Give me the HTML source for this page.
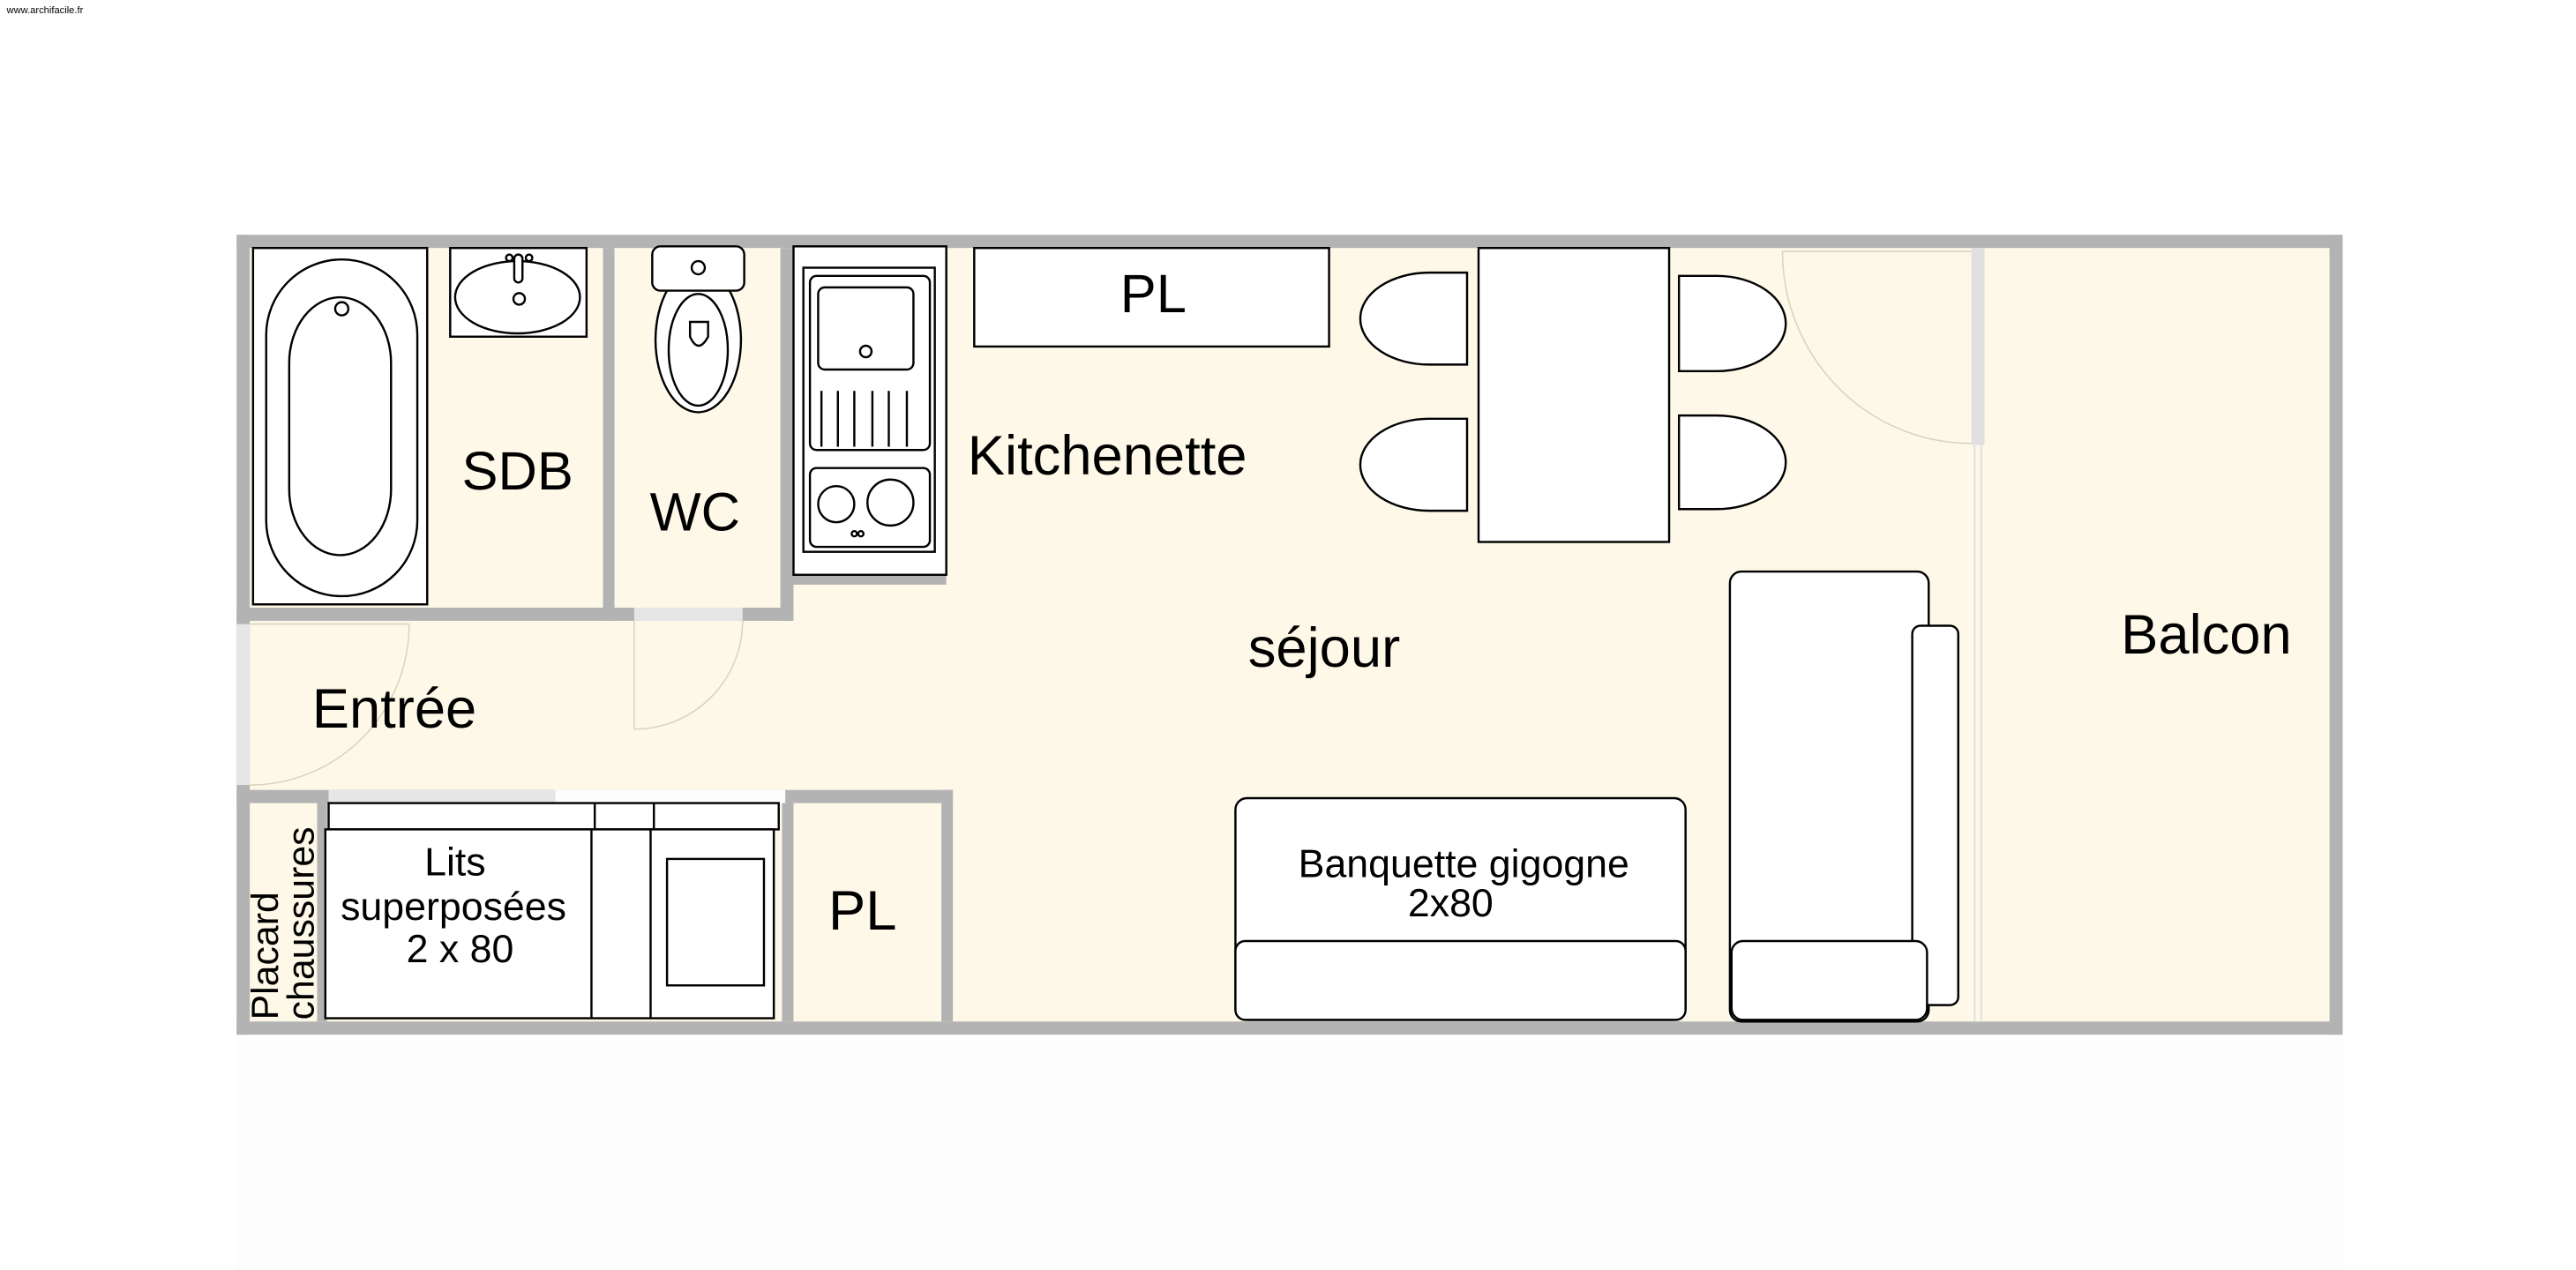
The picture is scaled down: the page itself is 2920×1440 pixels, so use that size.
<!DOCTYPE html>
<html><head><meta charset="utf-8"><style>
html,body{margin:0;padding:0;background:#fff;}
svg{display:block;}
text{font-family:"Liberation Sans",sans-serif;fill:#000;}
</style></head><body>
<svg width="2920" height="1440" viewBox="0 0 1568 773.3" xmlns="http://www.w3.org/2000/svg">
<rect x="0" y="0" width="1568" height="774" fill="#fff"/>
<rect x="144" y="630" width="1282" height="144" fill="#fdfdfd"/>
<text x="4" y="8" font-size="6" fill="#555">www.archifacile.fr</text>
<rect x="144" y="143" width="1282" height="487" fill="#fdf8e7"/>
<g fill="#b3b3b3">
<rect x="144" y="143" width="1282" height="8"/>
<rect x="144" y="622" width="1282" height="8"/>
<rect x="144" y="143" width="8" height="487"/>
<rect x="1418" y="143" width="8" height="487"/>
<rect x="367" y="151" width="7" height="227"/>
<rect x="475" y="151" width="8" height="227"/>
<rect x="144" y="370" width="339" height="8"/>
<rect x="483" y="350" width="93" height="6"/>
<rect x="144" y="481" width="436" height="8"/>
<rect x="193" y="489" width="6" height="133"/>
<rect x="476" y="489" width="7" height="133"/>
<rect x="573" y="481" width="7" height="141"/>
</g>
<rect x="386" y="370" width="66" height="8" fill="#e6e6e6"/>
<rect x="144" y="380" width="8" height="98" fill="#e6e6e6"/>
<rect x="200" y="481" width="138" height="8" fill="#e6e6e6"/>
<rect x="338" y="481" width="140" height="8" fill="#fdfdfd"/>
<rect x="1200" y="151" width="8" height="120" fill="#e0e0e0"/>
<rect x="1200" y="271" width="8" height="351" fill="#fdf8e7"/>
<line x1="1202" y1="271" x2="1202" y2="622" stroke="#ddd" stroke-width="1"/>
<line x1="1206" y1="271" x2="1206" y2="622" stroke="#ddd" stroke-width="1"/>
<g fill="none" stroke="#d8d2c0" stroke-width="0.8">
<path d="M1085 153 A115 117 0 0 0 1200 270"/>
<line x1="1085" y1="153" x2="1200" y2="153"/>
<path d="M152 478 A97 98 0 0 0 249 380"/>
<line x1="152" y1="380" x2="249" y2="380"/>
<path d="M386 444 A66 66 0 0 0 452 378"/>
<line x1="386" y1="378" x2="386" y2="444"/>
</g>
<g fill="#fff" stroke="#000" stroke-width="1.3">
<rect x="154" y="151" width="106" height="217"/>
<rect x="162" y="158" width="92" height="205" rx="46" ry="46"/>
<rect x="176" y="181" width="62" height="157" rx="31" ry="40"/>
<circle cx="208" cy="188" r="4"/>
<rect x="274" y="151" width="83" height="54"/>
<ellipse cx="315" cy="181" rx="38" ry="22"/>
<rect x="313" y="155" width="5" height="17" rx="2.5"/>
<circle cx="310" cy="157" r="2"/>
<circle cx="322" cy="157" r="2"/>
<circle cx="316" cy="182" r="3.5"/>
<ellipse cx="425" cy="207" rx="26" ry="44"/>
<ellipse cx="425" cy="213" rx="18" ry="34"/>
<rect x="397" y="150" width="56" height="27" rx="5"/>
<circle cx="425" cy="163" r="4"/>
<path d="M420 196 L431 196 L431 205 Q425 216 420 205 Z"/>
<rect x="483" y="150" width="93" height="200"/>
<rect x="489" y="163" width="80" height="173"/>
<rect x="493" y="168" width="73" height="106" rx="4"/>
<rect x="498" y="175" width="58" height="50" rx="4"/>
<circle cx="527" cy="214" r="3.5"/>
<line x1="500" y1="238" x2="500" y2="272"/>
<line x1="510" y1="238" x2="510" y2="272"/>
<line x1="520" y1="238" x2="520" y2="272"/>
<line x1="531" y1="238" x2="531" y2="272"/>
<line x1="541" y1="238" x2="541" y2="272"/>
<line x1="552" y1="238" x2="552" y2="272"/>
<rect x="493" y="285" width="73" height="48" rx="4"/>
<circle cx="509" cy="307" r="11"/>
<circle cx="542" cy="306" r="14"/>
<circle cx="520" cy="325" r="1.6"/>
<circle cx="524" cy="325" r="1.6"/>
<rect x="593" y="151" width="216" height="60"/>
<path d="M893 166 L893 222 L870 222 A42 28 0 0 1 870 166 Z"/>
<path d="M893 255 L893 311 L870 311 A42 28 0 0 1 870 255 Z"/>
<path d="M1022 168 L1022 226 L1045 226 A42 29 0 0 0 1045 168 Z"/>
<path d="M1022 253 L1022 310 L1045 310 A42 28.5 0 0 0 1045 253 Z"/>
<rect x="900" y="151" width="116" height="179"/>
<rect x="1053" y="348" width="121" height="274" rx="7"/>
<rect x="1164" y="381" width="28" height="231" rx="5"/>
<rect x="1054" y="573" width="119" height="48" rx="7"/>
<rect x="752" y="486" width="274" height="135" rx="7"/>
<rect x="752" y="573" width="274" height="48" rx="6"/>
<rect x="200" y="489" width="274" height="16"/>
<line x1="362" y1="489" x2="362" y2="505"/>
<line x1="398" y1="489" x2="398" y2="505"/>
<rect x="198" y="505" width="273" height="115"/>
<line x1="360" y1="505" x2="360" y2="620"/>
<line x1="396" y1="505" x2="396" y2="620"/>
<rect x="406" y="523" width="59" height="77"/>
</g>
<g text-anchor="middle">
<text x="702" y="190" font-size="33">PL</text>
<text x="315" y="298" font-size="33">SDB</text>
<text x="423" y="323" font-size="33">WC</text>
<text x="674" y="289" font-size="34">Kitchenette</text>
<text x="806" y="406" font-size="34">séjour</text>
<text x="240" y="443" font-size="34">Entrée</text>
<text x="1343" y="398" font-size="34">Balcon</text>
<text x="525" y="566" font-size="34">PL</text>
<text x="891" y="534" font-size="24">Banquette gigogne</text>
<text x="883" y="558" font-size="24">2x80</text>
<text x="277" y="533" font-size="24">Lits</text>
<text x="276" y="560" font-size="24">superposées</text>
<text x="280" y="586" font-size="24">2 x 80</text>
</g>
<text transform="translate(169,621) rotate(-90)" font-size="23">Placard</text>
<text transform="translate(191,621) rotate(-90)" font-size="23">chaussures</text>
</svg>
</body></html>
